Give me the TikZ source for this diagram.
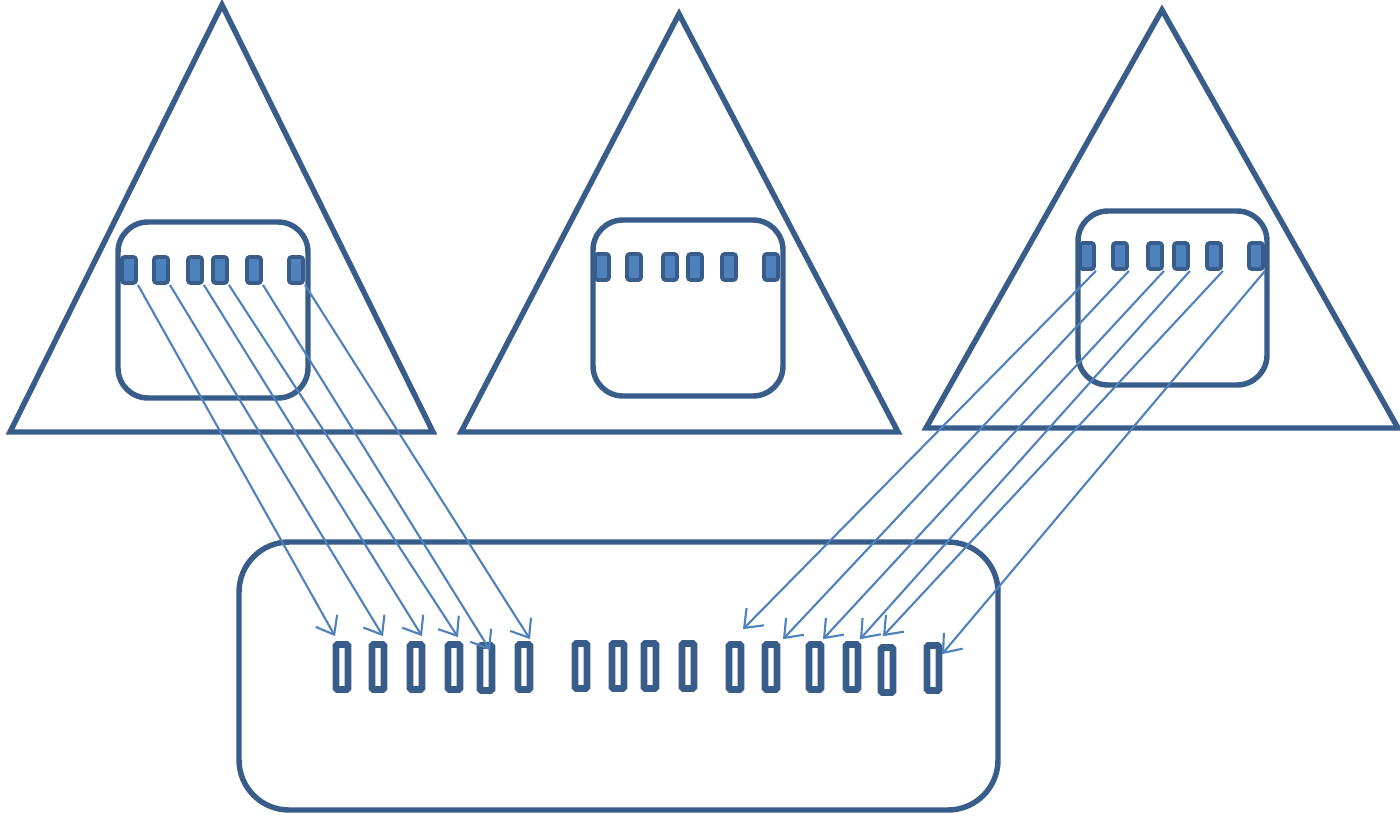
\documentclass[tikz,border=0pt]{standalone}
\usetikzlibrary{arrows.meta}
\definecolor{bordo}{HTML}{385D8A}
\definecolor{riempi}{HTML}{4F81BD}
\begin{document}
\begin{tikzpicture}[
    x=0.01cm,y=-0.01cm,
    contorno/.style={draw=bordo,line width=1.55pt},
    pin/.style={rectangle,draw=bordo,fill=riempi,line width=1.1pt,
                rounded corners=0.8pt,inner sep=0pt,
                minimum width=0.14cm,minimum height=0.26cm},
    slot/.style={rectangle,draw=bordo,fill=white,line width=1.9pt,
                 rounded corners=0.4pt,inner sep=0pt,
                 minimum width=0.12cm,minimum height=0.45cm},
    freccia/.style={draw=riempi,line width=0.6pt,
                    -{Straight Barb[length=4.5pt,width=7pt]}}]

  \useasboundingbox (0,0) rectangle (1400,815);

  % ---- i tre triangoli -----------------------------------------------------
  \draw[contorno] (222,5)    -- (433,432)  -- (10,432)  -- cycle;
  \draw[contorno] (679,14)   -- (898,432)  -- (461,432) -- cycle;
  \draw[contorno] (1162,10)  -- (1398,428) -- (926,428) -- cycle;

  % ---- riquadri interni ----------------------------------------------------
  \draw[contorno,rounded corners=0.3cm] (118,222)  rectangle (308,398);
  \draw[contorno,rounded corners=0.3cm] (593,220)  rectangle (783,396);
  \draw[contorno,rounded corners=0.3cm] (1078,211) rectangle (1267,385);

  % ---- piedini ---------------------------------------------------------------
  \foreach \x [count=\i] in {129,161,195,220,254,296}
    \node[pin] (a\i) at (\x,270) {};
  \foreach \x [count=\i] in {602,634,670,695,729,771}
    \node[pin] (b\i) at (\x,267) {};
  \foreach \x [count=\i] in {1087,1120,1155,1181,1214,1256}
    \node[pin] (c\i) at (\x,256) {};

  % ---- contenitore in basso con le sedi ------------------------------------
  \draw[contorno,rounded corners=0.5cm] (239,542) rectangle (998,810);
  \foreach \x/\y [count=\i] in {342/667,378/667,416/667,454/667,486/668,
      524/667,581/666,618/666,650/666,688/666,735/667,771/667,815/667,
      852/667,887/670,933/668}
    \node[slot] (s\i) at (\x,\y) {};

  % ---- frecce dai piedini alle sedi ----------------------------------------
  \foreach \i/\dx/\dy in {1/-7/-5,2/5/-5,3/6/-5,4/4/-4,5/4/8,6/6/-2}
    \draw[freccia] (a\i.south east) -- ([shift={(\dx,\dy)}]s\i.north);
  \foreach \i/\j/\dx/\dy in {1/11/8/-12,2/12/12/-2,3/13/8/-2,4/14/8/-2,
      5/15/-4/-8,6/16/9/12}
    \draw[freccia] (c\i.south east) -- ([shift={(\dx,\dy)}]s\j.north);

\end{tikzpicture}
\end{document}
